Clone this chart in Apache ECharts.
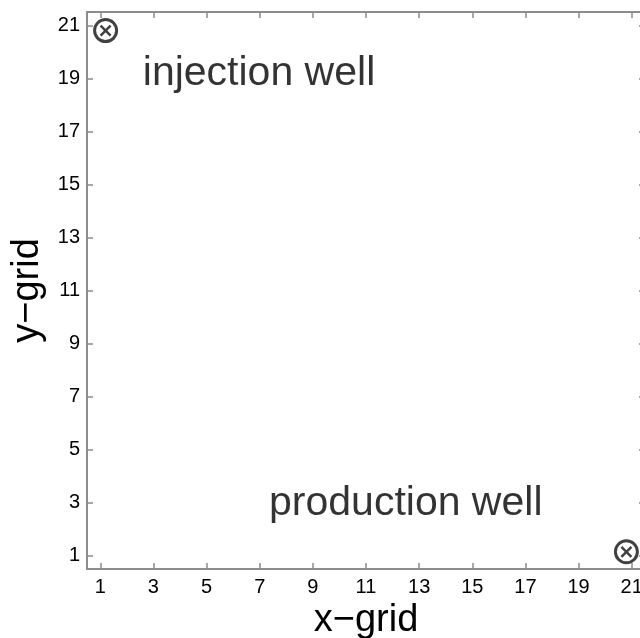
<!DOCTYPE html>
<html>
<head>
<meta charset="utf-8">
<script src="https://cdn.jsdelivr.net/npm/echarts@6/dist/echarts.min.js"></script>
<style>
html,body{margin:0;padding:0;background:#fff;}
#c{width:640px;height:638px;}
</style>
</head>
<body>
<div id="c"></div>
<script>
// ---- data ----
const tickValues = [1, 3, 5, 7, 9, 11, 13, 15, 17, 19, 21];
const wellNames = ['injection well', 'production well'];
const wellX = [1.2, 20.8];
const wellY = [20.8, 1.15];
const labelX = [2.6, 7.35];
const labelY = [19.17, 2.98];
const xTitle = 'x\u2212grid';
const yTitle = 'y\u2212grid';

const FONT = '"Liberation Sans", Arial, Helvetica, sans-serif';
const AX = '#8c8c8c';

const wellData = wellX.map((x, i) => [x, wellY[i]]);
const labelData = labelX.map((x, i) => ({ value: [x, labelY[i]], name: wellNames[i] }));

function axisBase(extra) {
  return Object.assign({
    type: 'value', min: 0.5, max: 21.5,
    axisLine: { show: true, onZero: false, lineStyle: { color: AX, width: 2 } },
    axisTick: { show: true, inside: true, length: 6, customValues: tickValues, lineStyle: { color: AX, width: 1.5 } },
    splitLine: { show: false }
  }, extra);
}

const chart = echarts.init(document.getElementById('c'), null, { renderer: 'canvas' });
chart.setOption({
  backgroundColor: '#fff',
  animation: false,
  grid: { left: 87, top: 12, width: 558, height: 557, containLabel: false, outerBoundsMode: 'none' },
  xAxis: [
    axisBase({
      position: 'bottom',
      name: xTitle, nameLocation: 'middle', nameGap: 32,
      nameTextStyle: { fontFamily: FONT, fontSize: 38, color: '#000' },
      axisLabel: { show: true, customValues: tickValues, margin: 8, fontFamily: FONT, fontSize: 20, color: '#000' }
    }),
    axisBase({ position: 'top', axisLabel: { show: false } })
  ],
  yAxis: [
    axisBase({
      position: 'left',
      name: yTitle, nameLocation: 'middle', nameGap: 39,
      nameTextStyle: { fontFamily: FONT, fontSize: 38, color: '#000' },
      axisLabel: { show: true, customValues: tickValues, margin: 7, fontFamily: FONT, fontSize: 20, color: '#000' }
    }),
    axisBase({ position: 'right', axisLabel: { show: false } })
  ],
  series: [
    {
      type: 'scatter', data: wellData, symbol: 'circle', symbolSize: 22,
      itemStyle: { color: 'transparent', borderColor: '#111', borderWidth: 3 },
      silent: true
    },
    {
      type: 'scatter', data: wellData, symbol: 'path://M0,0L10,10M10,0L0,10', symbolSize: 10,
      itemStyle: { color: 'transparent', borderColor: '#111', borderWidth: 2.5 },
      silent: true
    },
    {
      type: 'scatter', data: labelData, symbolSize: 0,
      label: {
        show: true, position: 'right', distance: 0, formatter: '{b}',
        fontFamily: FONT, fontSize: 41, color: '#000'
      },
      silent: true
    }
  ]
});
</script>
</body>
</html>
